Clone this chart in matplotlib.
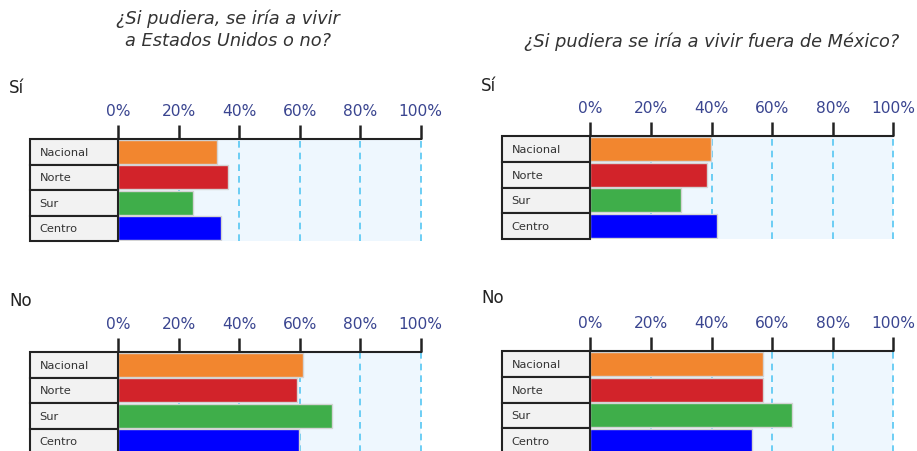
import matplotlib
matplotlib.use("Agg")
import matplotlib.pyplot as plt
from matplotlib.patches import Rectangle

# Datos (porcentajes)
regiones = ["Nacional", "Norte", "Sur", "Centro"]
eu_si = [32.7, 36.2, 24.8, 34.1]
eu_no = [61.2, 59.2, 70.6, 59.9]
fuera_si = [39.8, 38.6, 30.0, 41.9]
fuera_no = [57.1, 57.1, 66.5, 53.3]
ticks = [0, 20, 40, 60, 80, 100]
tick_labels = ["0%", "20%", "40%", "60%", "80%", "100%"]
colores = ["#f2862f", "#d2232a", "#3fae4a", "#0000ff"]

W, H = 917, 452
fig = plt.figure(figsize=(W / 100, H / 100), dpi=100)
fig.patch.set_facecolor("white")


def fx(x):
    return x / W


def fy(y):
    return 1 - y / H


def panel(x0, x100, box_left, top, bottom, valores):
    """x0/x100: posicion en px de 0% y 100%"""
    escala = (x100 - x0) / 100.0
    xmin = -(x0 - box_left) / escala
    xmax = 101.5
    left = box_left
    width = (xmax - xmin) * escala
    ax = fig.add_axes([fx(left), fy(bottom), fx(width), (bottom - top) / H])
    ax.set_xlim(xmin, xmax)
    ax.set_ylim(3.5, -0.5)
    ax.patch.set_alpha(0)

    # fondo celeste y lineas de guia
    ax.axvspan(0, 100, color="#eef7fe", zorder=0, lw=0)
    for t in ticks[1:]:
        ax.axvline(t, color="#55c6f2", lw=1.2, ls=(0, (4, 3)), zorder=1)

    ax.barh(range(len(regiones)), valores, height=0.94, color=colores,
            edgecolor="#d4d4d4", linewidth=1, zorder=2)

    # cajas con nombres de region
    for i, reg in enumerate(regiones):
        ax.add_patch(Rectangle((xmin, i - 0.5), -xmin, 1.0, facecolor="#f2f2f2",
                               edgecolor="#222222", lw=1.5, zorder=3, clip_on=False))
        ax.text(xmin + 3.2, i, reg, fontsize=8.2, color="#333333", va="center",
                ha="left", zorder=4)

    for s in ["left", "right", "bottom"]:
        ax.spines[s].set_visible(False)
    ax.spines["top"].set_bounds(0, 100)
    ax.spines["top"].set_linewidth(1.5)
    ax.spines["top"].set_color("#222222")
    ax.set_yticks([])
    ax.set_xticks(ticks)
    ax.set_xticklabels(tick_labels)
    ax.xaxis.tick_top()
    ax.tick_params(axis="x", direction="out", length=10, width=1.8, color="#222222",
                   labelsize=11.2, labelcolor="#3a4590", pad=5)
    return ax


panel(118.3, 420.7, 30, 140, 242, eu_si)
panel(118.3, 420.7, 30, 353, 455, eu_no)
panel(590.3, 893.3, 501.7, 137, 240, fuera_si)
panel(590.3, 893.3, 501.7, 352, 455, fuera_no)

titulo_kw = dict(fontsize=12.8, style="italic", color="#333333", ha="center", va="center")
fig.text(fx(228), fy(19), "¿Si pudiera, se iría a vivir", **titulo_kw)
fig.text(fx(228), fy(41), "a Estados Unidos o no?", **titulo_kw)
fig.text(fx(712), fy(42), "¿Si pudiera se iría a vivir fuera de México?", **titulo_kw)

sub_kw = dict(fontsize=12, color="#222222", ha="left", va="center")
fig.text(fx(9), fy(88), "Sí", **sub_kw)
fig.text(fx(9), fy(301), "No", **sub_kw)
fig.text(fx(481), fy(86), "Sí", **sub_kw)
fig.text(fx(481), fy(298), "No", **sub_kw)

fig.savefig("out.png", dpi=100)
